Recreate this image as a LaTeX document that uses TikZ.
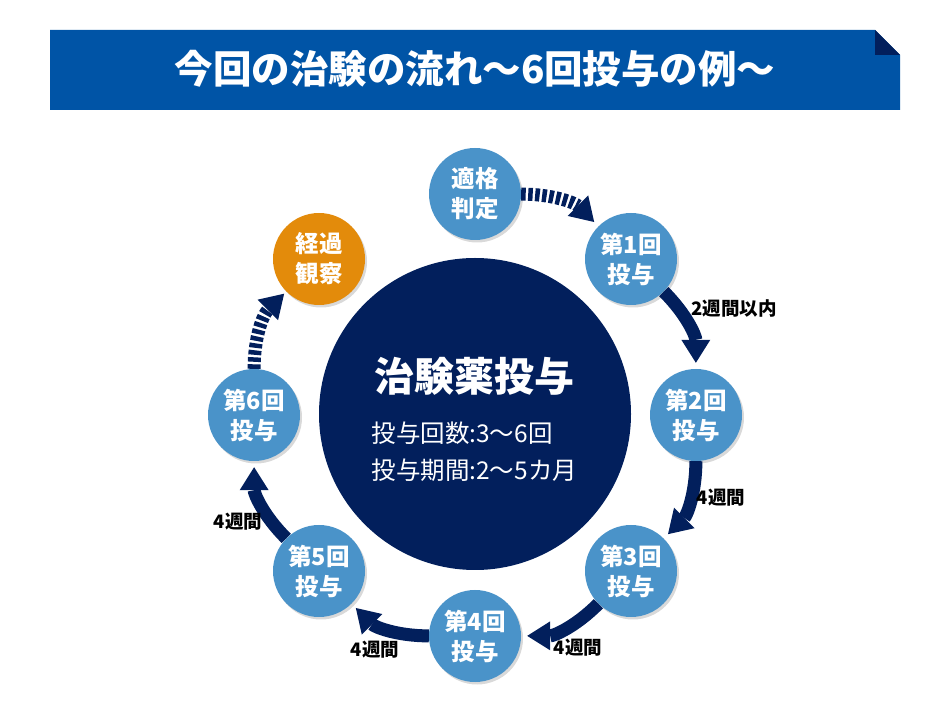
\documentclass[tikz,border=0pt]{standalone}
\usepackage{fontspec}
\setmainfont{Noto Sans CJK JP}
\usetikzlibrary{arrows.meta,shadows}
\definecolor{bannerblue}{RGB}{0,84,166}
\definecolor{navy}{RGB}{2,31,92}
\definecolor{doseblue}{RGB}{74,147,201}
\definecolor{doseorange}{RGB}{227,139,11}
\tikzstyle{dose} = [circle, minimum size=92pt, inner sep=0pt, fill=doseblue, text=white, align=center, font=\fontsize{23.5}{30}\selectfont\bfseries, drop shadow={shadow xshift=2pt, shadow yshift=-2.5pt, opacity=0.3}]
\tikzstyle{arrow} = [draw=navy, line width=13pt, -{Triangle[width=29pt,length=23pt,line width=0pt]}, shorten >=6pt]
\tikzstyle{dasharrow} = [arrow, dash pattern=on 4.5pt off 2.5pt]
\tikzstyle{interval} = [font=\fontsize{18.5}{20}\selectfont\bfseries]

\begin{document}
\begin{tikzpicture}[x=1pt, y=1pt]
	\useasboundingbox (0,0) rectangle (950,720);
	% banner
	\fill[bannerblue] (50,610) -- (50,690) -- (875,690) -- (900,665) -- (900,610) -- cycle;
	\fill[navy] (875,690) -- (875,665) -- (900,665) -- cycle;
	\node (title) at (475, 651) [text=white, font=\fontsize{38.5}{40}\selectfont\bfseries] {今回の治験の流れ〜6回投与の例〜};
	% centre
	\node (drug) at (475, 306) [circle, fill=navy, minimum size=312pt, inner sep=0pt] {};
	\node (drugtitle) at (474, 344) [text=white, font=\fontsize{40}{40}\selectfont\bfseries] {治験薬投与};
	\node (druginfo) at (368, 268) [anchor=west, text=white, align=left, font=\fontsize{24.5}{37}\selectfont] {投与回数:3〜6回\\投与期間:2〜5カ月};
	% ring
	\node (judge) at (475, 526) [dose] {適格\\判定};
	\node (dose1) at (631, 461) [dose] {第1回\\投与};
	\node (dose2) at (696, 305) [dose] {第2回\\投与};
	\node (dose3) at (631, 149) [dose] {第3回\\投与};
	\node (dose4) at (475, 84) [dose] {第4回\\投与};
	\node (dose5) at (319, 149) [dose] {第5回\\投与};
	\node (dose6) at (254, 305) [dose] {第6回\\投与};
	\node (follow) at (319, 461) [dose, fill=doseorange] {経過\\観察};
	\draw [dasharrow] (judge) to[bend left=22.5] (dose1);
	\draw [arrow] (dose1) to[bend left=22.5] (dose2);
	\draw [arrow] (dose2) to[bend left=22.5] (dose3);
	\draw [arrow] (dose3) to[bend left=22.5] (dose4);
	\draw [arrow] (dose4) to[bend left=22.5] (dose5);
	\draw [arrow] (dose5) to[bend left=22.5] (dose6);
	\draw [dasharrow, shorten >=3pt] (dose6) to[bend left=22.5] (follow);
	% intervals
	\node (int12) at (734, 412) [interval] {2週間以内};
	\node (int23) at (721, 222) [interval] {4週間};
	\node (int34) at (578, 72) [interval] {4週間};
	\node (int45) at (375, 70) [interval] {4週間};
	\node (int56) at (238, 198) [interval] {4週間};
\end{tikzpicture}
\end{document}
